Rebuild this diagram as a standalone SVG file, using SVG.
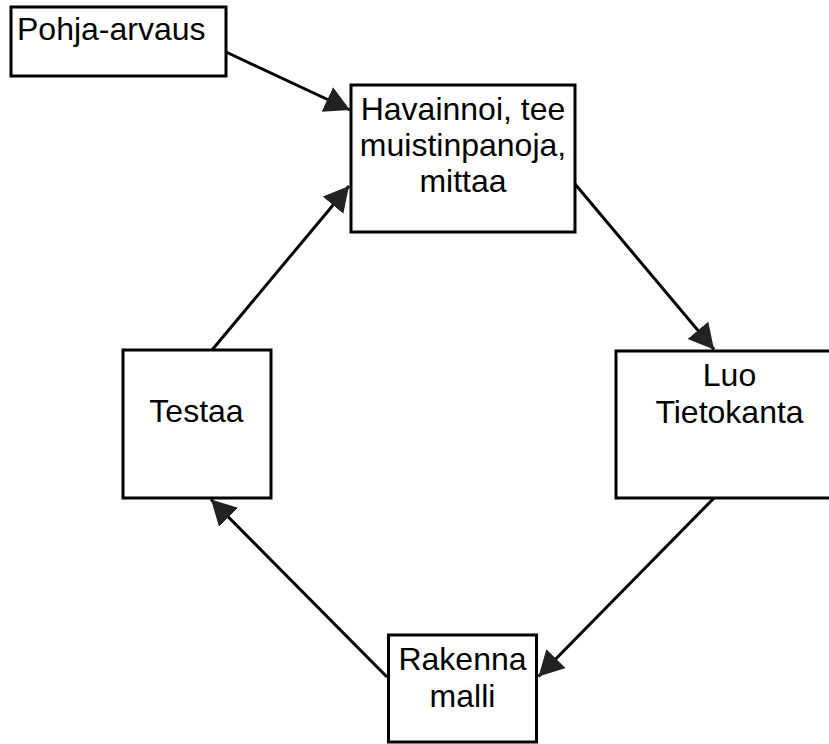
<svg xmlns="http://www.w3.org/2000/svg" width="829" height="744" viewBox="0 0 829 744">
<style>
.box{fill:#fff;stroke:#000;stroke-width:3}
.lbl{font-family:"Liberation Sans",Arial,sans-serif;font-size:32px;fill:#000}
.c{text-anchor:middle}
.edge{stroke:#000;stroke-width:3;fill:none;marker-end:url(#ah)}
</style>
<defs>
<marker id="ah" markerUnits="userSpaceOnUse" markerWidth="27" markerHeight="28" refX="25" refY="13.5" orient="auto">
<path d="M0,0 L25,13.5 L0,27 Z" fill="#222"/>
</marker>
</defs>
<rect width="829" height="744" fill="#fff"/>
<g id="connectors">
<line class="edge" x1="226" y1="52" x2="350" y2="110"/>
<line class="edge" x1="212" y1="350" x2="349" y2="186"/>
<line class="edge" x1="575" y1="184" x2="714" y2="349.5"/>
<line class="edge" x1="714" y1="498" x2="538.5" y2="676.5"/>
<line class="edge" x1="387" y1="677" x2="211" y2="499.5"/>
</g>
<g id="pohja">
<rect class="box" x="11" y="7" width="215" height="69"/>
<text class="lbl" x="17" y="40">Pohja-arvaus</text>
</g>
<g id="havainnoi">
<rect class="box" x="351" y="85" width="224" height="147"/>
<text class="lbl c" x="463" y="119.5">Havainnoi, tee</text>
<text class="lbl c" x="463" y="155.5">muistinpanoja,</text>
<text class="lbl c" x="463" y="192">mittaa</text>
</g>
<g id="luo">
<rect class="box" x="616" y="351" width="227" height="147"/>
<text class="lbl c" x="729.5" y="386">Luo</text>
<text class="lbl c" x="729.5" y="423">Tietokanta</text>
</g>
<g id="testaa">
<rect class="box" x="123" y="350" width="148" height="148"/>
<text class="lbl c" x="196.5" y="422">Testaa</text>
</g>
<g id="rakenna">
<rect class="box" x="388.5" y="635" width="148" height="107"/>
<text class="lbl c" x="462.5" y="670">Rakenna</text>
<text class="lbl c" x="462.5" y="707">malli</text>
</g>
</svg>
